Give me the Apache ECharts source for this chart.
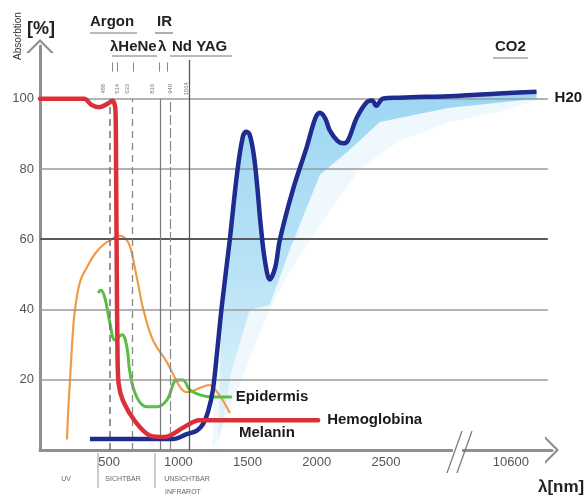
<!DOCTYPE html>
<html>
<head>
<meta charset="utf-8">
<script src="https://cdn.jsdelivr.net/npm/echarts@6.0.0/dist/echarts.min.js"></script>
<style>
  html, body { margin: 0; padding: 0; background: #fff; }
  #main { width: 587px; height: 497px; }
</style>
</head>
<body>
<div id="main"></div>
<script>
// absorption [%] against wavelength [nm]
const hemoglobin = [[0, 100], [320, 100], [370, 98.3], [430, 97.6], [490, 98.6], [525, 99.4], [545, 97], [550, 80], [555, 50], [560, 28], [568, 19], [600, 14], [690, 8], [800, 4], [900, 3.7], [1040, 6.5], [1150, 8.5], [2010, 8.5]];
const melanin = [[195, 3], [205, 12], [217, 20], [235, 32], [253, 40], [290, 48], [339, 52], [400, 56], [460, 58.5], [520, 60], [563, 61], [610, 60.5], [650, 58], [690, 51], [720, 45], [744, 40.4], [816, 31.3], [917, 25], [1011, 18], [1061, 16.5], [1177, 18], [1220, 18.5], [1290, 16], [1372, 10.5]];
const epidermis = [[419, 44.7], [440, 45.5], [469, 43.3], [505, 36.2], [542, 31.3], [592, 32.8], [628, 29.3], [650, 22], [700, 15], [773, 12.3], [845, 12.3], [917, 14.2], [989, 19.9], [1032, 19.9], [1083, 17.1], [1155, 15.7], [1249, 15.1], [1386, 15.1]];
const water = [[361, 3.1], [960, 3.1], [1061, 4.5], [1134, 5.5], [1180, 7.5], [1215, 11], [1249, 17], [1280, 28], [1314, 41], [1372, 60], [1425, 79], [1465, 89], [1490, 90.6], [1515, 89.8], [1545, 84], [1570, 75], [1595, 64], [1625, 54], [1661, 48.5], [1700, 52], [1733, 59.8], [1827, 74], [1928, 86.3], [1990, 94.5], [2022, 96], [2060, 94.5], [2094, 91], [2150, 88], [2190, 87.3], [2224, 88], [2289, 94.6], [2361, 99], [2400, 99.5], [2430, 98], [2477, 100], [2600, 100.3], [3000, 100.8], [9000, 101.5], [14100, 102]];
// lower edges of the light blue haze under the water curve
const waterHazeOuter = [[1249, 0], [1336, 8.5], [1444, 18.5], [1552, 30], [1661, 40], [1805, 51], [2022, 64], [2310, 80], [2599, 88], [2960, 93.4], [9057, 96.3], [14100, 99.5]];
const waterHazeInner = [[1285, 0], [1386, 22.8], [1516, 39.9], [1661, 41.3], [1805, 57], [2022, 78.3], [2238, 85.5], [2455, 93.4], [2960, 97.4], [14100, 100]];

const xTicksNm = [500, 1000, 1500, 2000, 2500, 10600];
const yTicks = [20, 40, 60, 80, 100];
const laserLinesNm = [505, 665, 866, 940, 1076];
const laserTopTicksNm = [520, 556, 671, 859, 917];
const laserSmallLabels = [['488', 455], ['514', 556], ['633', 628], ['810', 809], ['940', 939], ['1064', 1061]];
const co2Nm = 10600;

// broken wavelength axis: compress everything after BREAK_NM
const BREAK_NM = 3000;
const BREAK_SCALE = 0.053;
const toAxis = nm => nm <= BREAK_NM ? nm : BREAK_NM + (nm - BREAK_NM) * BREAK_SCALE;
const fromAxis = v => v <= BREAK_NM + 1 ? v : Math.round(BREAK_NM + (v - BREAK_NM) / BREAK_SCALE);
const mapPts = arr => arr.map(([nm, v]) => [toAxis(nm), v]);

const font = "'Liberation Sans', Arial, sans-serif";
const chevron = 'path://M0,14 L14,0 L28,14 L25,14 L14,3 L3,14 Z';

let chart = echarts.init(document.getElementById('main'), null, { renderer: 'canvas' });

let gridLines = yTicks.map(v => [
    { coord: [0, v], lineStyle: { color: v === 60 ? '#5a5a5a' : '#9a9a9a', width: v === 60 ? 2.2 : 1.6, type: 'solid' } },
    { coord: [3670, v] }
]);
let laserStyles = [
    { color: '#6a7088', width: 1.5, type: [7, 5] },
    { color: '#8a8a8a', width: 1.3, type: [7, 5] },
    { color: '#7a7a7a', width: 1.2, type: 'solid' },
    { color: '#8a8a8a', width: 1.2, type: [10, 3] },
    { color: '#555', width: 1.3, type: 'solid' }
];
let laserLines = laserLinesNm.map((nm, i) => [
    { coord: [toAxis(nm), 0], lineStyle: laserStyles[i] },
    { coord: [toAxis(nm), i === 4 ? 111 : 100] }
]);
let topTicks = laserTopTicksNm.map(nm => [
    { coord: [toAxis(nm), 107.7], lineStyle: { color: '#888', width: 1, type: 'solid' } },
    { coord: [toAxis(nm), 110.3] }
]);
let co2Line = [[
    { coord: [toAxis(co2Nm), -3], lineStyle: { color: '#9a9a9a', width: 1.5, type: [9, 6] } },
    { coord: [toAxis(co2Nm), 110] }
]];

let hazePolygon = (api, lower) => {
    let top = water.filter(p => p[0] >= lower[0][0]);
    return mapPts(top).concat(mapPts(lower.slice().reverse())).map(p => api.coord(p));
};

let option = {
    animation: false,
    textStyle: { fontFamily: font },
    grid: { left: 40, right: 35, top: 46, bottom: 47 },
    xAxis: {
        type: 'value',
        min: 0,
        max: 3700,
        splitLine: { show: false },
        axisTick: { show: false },
        axisLine: {
            lineStyle: { color: '#8f8f8f', width: 3 },
            symbol: ['none', chevron],
            symbolSize: [28, 14]
        },
        axisLabel: {
            customValues: xTicksNm.map(toAxis),
            formatter: v => String(fromAxis(v)),
            color: '#555',
            fontSize: 13,
            margin: 6
        }
    },
    yAxis: {
        type: 'value',
        min: 0,
        max: 115,
        splitLine: { show: false },
        axisTick: { show: false },
        axisLine: {
            show: true,
            lineStyle: { color: '#8f8f8f', width: 3 },
            symbol: ['none', chevron],
            symbolSize: [28, 14]
        },
        axisLabel: {
            customValues: yTicks,
            color: '#555',
            fontSize: 13,
            margin: 6
        }
    },
    series: [
        {
            name: 'marks',
            type: 'line',
            data: [],
            silent: true,
            z: 1,
            markLine: {
                silent: true,
                symbol: 'none',
                label: { show: false },
                data: gridLines.concat(laserLines, topTicks, co2Line)
            },
            markPoint: {
                silent: true,
                symbol: 'rect',
                symbolSize: 0,
                data: laserSmallLabels.map(([t, nm]) => ({
                    coord: [toAxis(nm), 102.8],
                    value: t,
                    label: { show: true, formatter: t, rotate: 90, fontSize: 6, color: '#777', position: 'inside' }
                }))
            }
        },
        {
            name: 'haze',
            type: 'custom',
            silent: true,
            z: 2,
            data: [[0, 0]],
            renderItem: (params, api) => ({
                type: 'group',
                children: [
                    {
                        type: 'polygon',
                        shape: { points: hazePolygon(api, waterHazeOuter) },
                        style: { fill: 'rgba(120,200,240,0.13)' }
                    },
                    {
                        type: 'polygon',
                        shape: { points: hazePolygon(api, waterHazeInner) },
                        style: {
                            fill: {
                                type: 'linear', x: 0, y: 0, x2: 0, y2: 1,
                                colorStops: [
                                    { offset: 0, color: 'rgba(45,168,228,0.42)' },
                                    { offset: 0.5, color: 'rgba(60,175,232,0.3)' },
                                    { offset: 1, color: 'rgba(100,195,238,0.08)' }
                                ]
                            }
                        }
                    }
                ]
            })
        },
        {
            name: 'Melanin',
            type: 'line',
            data: mapPts(melanin),
            smooth: 0.4,
            showSymbol: false,
            z: 3,
            lineStyle: { color: '#f09a4a', width: 2.2 }
        },
        {
            name: 'Epidermis',
            type: 'line',
            data: mapPts(epidermis),
            smooth: 0.4,
            showSymbol: false,
            z: 4,
            lineStyle: { color: '#5cbd45', width: 3 },
            endLabel: { show: true, formatter: 'Epidermis', distance: 4, fontSize: 15, fontWeight: 'bold', color: '#1a1a1a', fontFamily: font }
        },
        {
            name: 'Water',
            type: 'line',
            data: mapPts(water),
            smooth: 0.35,
            showSymbol: false,
            z: 5,
            lineStyle: { color: '#1e2c8f', width: 4.5 },
            endLabel: { show: true, formatter: 'H20', distance: 18, offset: [0, 6], fontSize: 15, fontWeight: 'bold', color: '#1a1a1a', fontFamily: font }
        },
        {
            name: 'Hemoglobina',
            type: 'line',
            data: mapPts(hemoglobin),
            smooth: 0.3,
            showSymbol: false,
            z: 6,
            lineStyle: { color: '#dc3039', width: 4.5, join: 'round', cap: 'round' },
            endLabel: { show: true, formatter: 'Hemoglobina', distance: 9, fontSize: 15, fontWeight: 'bold', color: '#1a1a1a', fontFamily: font }
        }
    ],
    graphic: [
        { type: 'text', x: 18, y: 36, rotation: Math.PI / 2, style: { text: 'Absorbtion', fontSize: 10, fill: '#333', fontFamily: font, align: 'center', verticalAlign: 'middle' } },
        { type: 'text', x: 27, y: 29, style: { text: '[%]', fontSize: 18, fontWeight: 'bold', fill: '#222', fontFamily: font, verticalAlign: 'middle' } },
        { type: 'text', x: 90, y: 22, style: { text: 'Argon', fontSize: 15, fontWeight: 'bold', fill: '#222', fontFamily: font, verticalAlign: 'middle' } },
        { type: 'text', x: 157, y: 22, style: { text: 'IR', fontSize: 15, fontWeight: 'bold', fill: '#222', fontFamily: font, verticalAlign: 'middle' } },
        { type: 'text', x: 110, y: 47, style: { text: 'λHeNe', fontSize: 15, fontWeight: 'bold', fill: '#222', fontFamily: font, verticalAlign: 'middle' } },
        { type: 'text', x: 158, y: 47, style: { text: 'λ', fontSize: 15, fontWeight: 'bold', fill: '#222', fontFamily: font, verticalAlign: 'middle' } },
        { type: 'text', x: 172, y: 47, style: { text: 'Nd YAG', fontSize: 15, fontWeight: 'bold', fill: '#222', fontFamily: font, verticalAlign: 'middle' } },
        { type: 'text', x: 495, y: 47, style: { text: 'CO2', fontSize: 15, fontWeight: 'bold', fill: '#222', fontFamily: font, verticalAlign: 'middle' } },
        { type: 'line', shape: { x1: 90, y1: 33, x2: 137, y2: 33 }, style: { stroke: '#777', lineWidth: 1.2 } },
        { type: 'line', shape: { x1: 155, y1: 33, x2: 173, y2: 33 }, style: { stroke: '#777', lineWidth: 1.2 } },
        { type: 'line', shape: { x1: 112, y1: 56, x2: 157, y2: 56 }, style: { stroke: '#777', lineWidth: 1.2 } },
        { type: 'line', shape: { x1: 170, y1: 56, x2: 232, y2: 56 }, style: { stroke: '#777', lineWidth: 1.2 } },
        { type: 'line', shape: { x1: 493, y1: 58, x2: 528, y2: 58 }, style: { stroke: '#777', lineWidth: 1.2 } },
        { type: 'text', x: 239, y: 433, style: { text: 'Melanin', fontSize: 15, fontWeight: 'bold', fill: '#1a1a1a', fontFamily: font, verticalAlign: 'middle' } },
        // broken axis marks
        { type: 'rect', z: 50, shape: { x: 453, y: 444, width: 9, height: 12 }, style: { fill: '#fff' } },
        { type: 'line', z: 51, shape: { x1: 447, y1: 473, x2: 462, y2: 431 }, style: { stroke: '#777', lineWidth: 1.2 } },
        { type: 'line', z: 51, shape: { x1: 457, y1: 473, x2: 472, y2: 431 }, style: { stroke: '#777', lineWidth: 1.2 } },
        // spectral regions under the axis
        { type: 'line', shape: { x1: 98, y1: 453, x2: 98, y2: 488 }, style: { stroke: '#999', lineWidth: 1 } },
        { type: 'line', shape: { x1: 155, y1: 453, x2: 155, y2: 488 }, style: { stroke: '#999', lineWidth: 1 } },
        { type: 'text', x: 66, y: 479, style: { text: 'UV', fontSize: 7, fill: '#666', fontFamily: font, align: 'center', verticalAlign: 'middle' } },
        { type: 'text', x: 123, y: 479, style: { text: 'SICHTBAR', fontSize: 7, fill: '#666', fontFamily: font, align: 'center', verticalAlign: 'middle' } },
        { type: 'text', x: 187, y: 479, style: { text: 'UNSICHTBAR', fontSize: 7, fill: '#666', fontFamily: font, align: 'center', verticalAlign: 'middle' } },
        { type: 'text', x: 183, y: 492, style: { text: 'INFRAROT', fontSize: 7, fill: '#666', fontFamily: font, align: 'center', verticalAlign: 'middle' } },
        { type: 'text', x: 538, y: 487, style: { text: 'λ[nm]', fontSize: 17, fontWeight: 'bold', fill: '#222', fontFamily: font, verticalAlign: 'middle' } }
    ]
};

chart.setOption(option);
</script>
</body>
</html>
